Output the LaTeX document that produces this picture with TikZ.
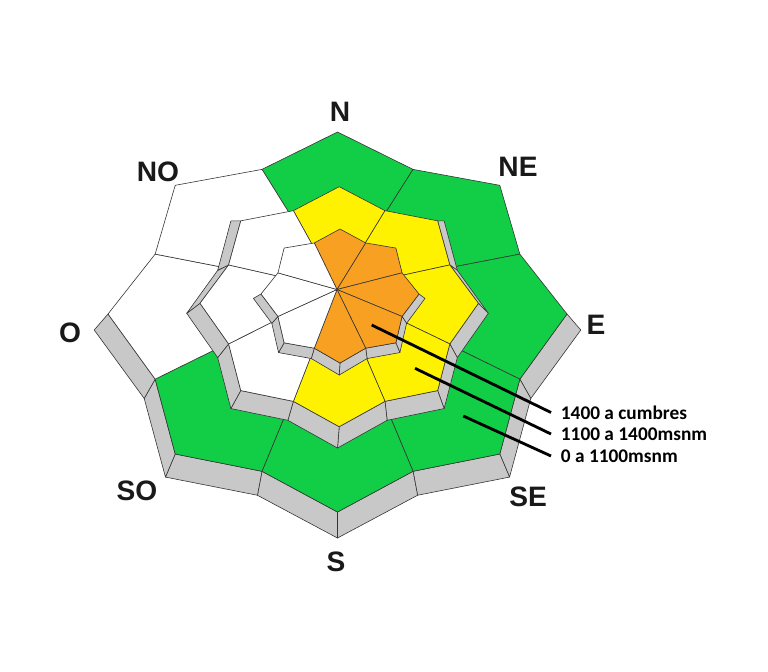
\documentclass[tikz,border=0pt]{standalone}
\usepackage{graphicx}
\usepackage{fontspec}
\setmainfont{Liberation Sans}
\newfontfamily\legendfont{Carlito}
\definecolor{zonegreen}{RGB}{18,205,70}
\definecolor{zoneyellow}{RGB}{255,242,0}
\definecolor{zoneorange}{RGB}{248,160,34}
\definecolor{wallgray}{RGB}{200,200,200}

\begin{document}
\begin{tikzpicture}[
                x=0.03cm, y=-0.03cm,
                wall/.style={
                    fill=wallgray,
                    draw=black!80,
                    line width=0.5pt,
                    line join=round
                },
                sector/.style={
                    draw=black!80,
                    line width=0.5pt,
                    line join=round
                },
                compass/.style={
                    font=\bfseries\fontsize{24}{24}\selectfont,
                    text=black!90
                },
                legend/.style={
                    anchor=west,
                    inner xsep=0.29cm,
                    inner ysep=0pt,
                    font=\legendfont\bfseries\fontsize{16.5}{16.5}\selectfont
                },
                leader/.style={
                    line width=2.4pt
                }
            ]

                \fill[white] (0,0) rectangle (768,671);
                \useasboundingbox (0,0) rectangle (768,671);

                % star rings: top faces and their bases
                \foreach \nm/\cx/\cy/\a/\bn/\bs/\v in {
                    out/337.5/314/229.5/182/198/0.86,
                    outb/337.5/330/243.3/198/208/0.86,
                    mid/339.2/303.3/139.2/116.6/123.4/0.86,
                    midb/337.5/313.3/150.8/130.6/134.7/0.86,
                    inn/340/294/79/65/69/0.85,
                    innb/339.2/298.4/85.8/69/76.6/0.85}
                {
                    \foreach \j in {0,...,15} {
                        \pgfmathsetmacro{\vang}{90-22.5*\j}
                        \pgfmathsetmacro{\vrad}{mod(\j,2)==1 ? \v : 1}
                        \pgfmathsetmacro{\vb}{sin(\vang)>0 ? \bn : \bs}
                        \coordinate (\nm-\j) at ({\cx+\vrad*\a*cos(\vang)},{\cy-\vrad*\vb*sin(\vang)});
                    }
                }
                \coordinate (apex) at (337,289.5);

                % walls first, then the sectors of each ring (N, NE, E, SE, S, SO, O, NO)
                \foreach \nm/\first/\last/\colours in {
                    out/4/11/{zonegreen,zonegreen,zonegreen,zonegreen,zonegreen,zonegreen,white,white},
                    mid/2/13/{zoneyellow,zoneyellow,zoneyellow,zoneyellow,zoneyellow,white,white,white},
                    inn/4/11/{zoneorange,zoneorange,zoneorange,zoneorange,zoneorange,white,white,white}}
                {
                    \foreach \j in {\first,...,\last} {
                        \pgfmathtruncatemacro{\k}{mod(\j+1,16)}
                        \draw[wall] (\nm-\j) -- (\nm-\k) -- (\nm b-\k) -- (\nm b-\j) -- cycle;
                    }
                    \foreach \col [count=\s from 0] in \colours {
                        \pgfmathtruncatemacro{\tip}{2*\s}
                        \pgfmathtruncatemacro{\lft}{mod(2*\s+15,16)}
                        \pgfmathtruncatemacro{\rgt}{2*\s+1}
                        \filldraw[sector, fill=\col] (apex) -- (\nm-\lft) -- (\nm-\tip) -- (\nm-\rgt) -- cycle;
                    }
                }

                \node[compass] (lblN)  at (340,112) {N};
                \node[compass] (lblNE) at (518,167) {NE};
                \node[compass] (lblE)  at (596,325) {E};
                \node[compass] (lblSE) at (528,497) {SE};
                \node[compass] (lblS)  at (336,562) {S};
                \node[compass] (lblSO) at (137,491) {SO};
                \node[compass] (lblO)  at (70,333)  {O};
                \node[compass] (lblNO) at (158,172) {NO};

                \coordinate (high) at (371.7,325);
                \coordinate (midd) at (415,368.3);
                \coordinate (low)  at (463.3,416);
                \node[legend] (legHigh) at (551,412.5) {1400 a cumbres};
                \node[legend] (legMid)  at (551,434)   {1100 a 1400msnm};
                \node[legend] (legLow)  at (551,456)   {0 a 1100msnm};

                \draw[leader] (high) -- (legHigh.west);
                \draw[leader] (midd) -- (legMid.west);
                \draw[leader] (low)  -- (legLow.west);
        \end{tikzpicture}
\end{document}
